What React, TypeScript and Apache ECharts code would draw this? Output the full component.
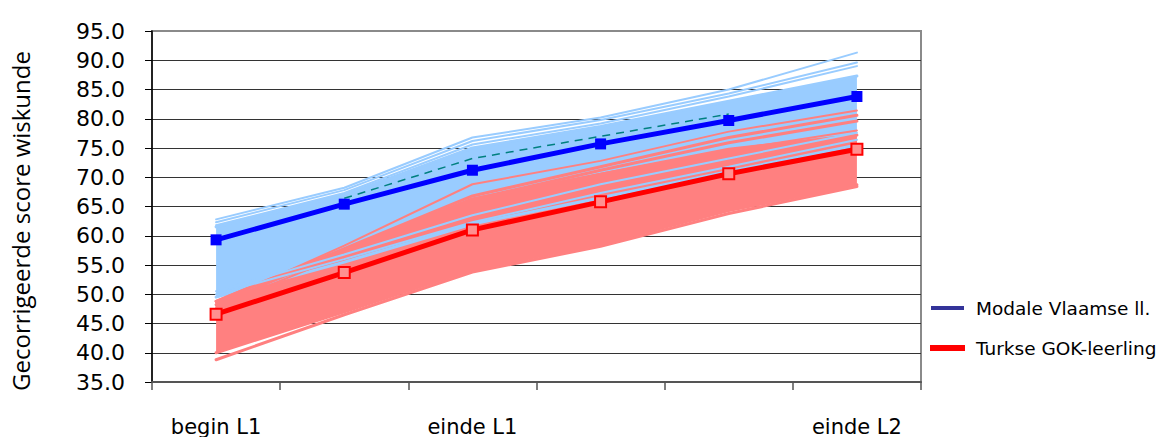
import React, { useEffect, useRef } from "react";
import * as echarts from "echarts";

// ---- data ----
const categories = ["begin L1", "", "einde L1", "", "", "einde L2"];
const yMin = 35;
const yMax = 95;
const yStep = 5;

const modaleName = "Modale Vlaamse ll.";
const turkseName = "Turkse GOK-leerling";
const modale = [59.3, 65.4, 71.2, 75.7, 79.7, 83.8];
const turkse = [46.6, 53.7, 61.0, 65.8, 70.6, 74.8];

// envelope of the dense bundle of individual (Flemish) pupil lines
const blueBandLow = [49.5, 55.5, 62.0, 66.5, 71.0, 75.5];
const blueBandHigh = [61.5, 67.0, 75.0, 78.7, 83.0, 87.3];
// individual Flemish pupil lines standing out of the bundle
const blueLineA = [62.8, 68.2, 76.8, 80.2, 85.0, 91.3];
const blueLineB = [62.3, 67.8, 76.2, 79.8, 84.3, 89.6];
const blueLineC = [61.8, 67.3, 75.6, 79.2, 83.8, 89.0];
const blueLineD = [50.5, 56.8, 63.5, 68.8, 73.2, 77.6];
const blueLineE = [50.0, 56.0, 62.3, 67.3, 71.8, 76.4];

// envelope of the dense bundle of individual Turkish pupil lines
const pinkBandLow = [40.0, 47.0, 54.2, 58.6, 64.3, 68.7];
const pinkBandHigh = [48.8, 57.6, 66.3, 70.5, 74.8, 77.2];
// individual Turkish pupil lines standing out of the bundle
const pinkLineA = [48.5, 58.3, 68.8, 72.8, 77.8, 81.4];
const pinkLineB = [48.8, 57.8, 66.8, 71.8, 76.8, 80.6];
const pinkLineC = [48.2, 57.4, 66.2, 71.2, 75.9, 79.6];
const pinkLineD = [47.8, 56.8, 65.6, 70.6, 74.6, 78.0];
const pinkLineE = [38.8, 46.5, 53.8, 58.2, 63.8, 68.4];

// dashed trend line partly hidden in the bundle
const tealDashed = [null, 66.4, 73.2, 77.0, 80.8, null];

const BLUE_BAND = "#99CCFF";
const PINK_BAND = "#FF8080";

function band(id: string, low: number[], high: number[], color: string) {
  return [
    {
      name: id + "-low",
      type: "line",
      stack: id,
      data: low,
      symbol: "none",
      silent: true,
      lineStyle: { color, width: 3, cap: "round" },
    },
    {
      name: id + "-fill",
      type: "line",
      stack: id,
      data: high.map((h, i) => +(h - low[i]).toFixed(2)),
      symbol: "none",
      silent: true,
      lineStyle: { color, width: 3, cap: "round" },
      areaStyle: { color, opacity: 1 },
    },
  ];
}

function thin(id: string, data: number[], color: string, width = 2) {
  return {
    name: id,
    type: "line",
    data,
    symbol: "none",
    silent: true,
    lineStyle: { color, width, cap: "round" },
  };
}

export default function App() {
  const ref = useRef<HTMLDivElement>(null);

  useEffect(() => {
    if (!ref.current) return;
    const chart = echarts.init(ref.current, null, { renderer: "svg" });
    const nLines = Math.round((yMax - yMin) / yStep) + 1;
    const splitColors = Array.from({ length: nLines }, (_, i) =>
      i === nLines - 1 ? "#8a8a8a" : "#333333"
    );

    const option: any = {
      animation: false,
      backgroundColor: "#ffffff",
      grid: {
        left: 152,
        top: 31,
        width: 769,
        height: 351,
        show: true,
        borderColor: "#8a8a8a",
        borderWidth: 2,
        backgroundColor: "transparent",
      },
      xAxis: {
        type: "category",
        data: categories,
        boundaryGap: true,
        axisLine: { lineStyle: { color: "#555555", width: 2 } },
        axisTick: {
          show: true,
          interval: 0,
          length: 8,
          lineStyle: { color: "#555555", width: 1.5 },
        },
        axisLabel: {
          interval: 0,
          margin: 34,
          fontFamily: "DejaVu Sans",
          fontSize: 21,
          color: "#000000",
        },
        splitLine: { show: false },
      },
      yAxis: {
        type: "value",
        min: yMin,
        max: yMax,
        interval: yStep,
        axisLine: { show: true, lineStyle: { color: "#000000", width: 1.5 } },
        axisTick: { show: true, length: 7, lineStyle: { color: "#000000" } },
        axisLabel: {
          margin: 27,
          fontFamily: "DejaVu Sans",
          fontSize: 22,
          color: "#000000",
          padding: [0, 0, 6, 0],
          formatter: (v: number) => v.toFixed(1),
        },
        splitLine: { show: true, lineStyle: { color: splitColors, width: 1 } },
      },
      legend: {
        orient: "vertical",
        left: 930,
        top: 298,
        itemWidth: 33,
        itemHeight: 4,
        itemGap: 20,
        padding: 0,
        selectedMode: false,
        textStyle: {
          fontFamily: "DejaVu Sans",
          fontSize: 18.5,
          color: "#000000",
          lineHeight: 20,
          padding: [0, 0, 0, 7],
        },
        data: [
          { name: modaleName, icon: "rect", itemStyle: { color: "#333399" } },
          { name: turkseName, icon: "rect", itemStyle: { color: "#FF0000" } },
        ],
      },
      graphic: [
        {
          type: "text",
          x: 20,
          y: 221,
          rotation: Math.PI / 2,
          style: {
            text: "Gecorrigeerde score wiskunde",
            font: '24px "Open Sans"',
            fill: "#000000",
            align: "center",
            verticalAlign: "middle",
          },
        },
      ],
      series: [
        ...band("blueBand", blueBandLow, blueBandHigh, BLUE_BAND),
        thin("blueA", blueLineA, BLUE_BAND, 2),
        thin("blueB", blueLineB, BLUE_BAND, 2),
        thin("blueC", blueLineC, BLUE_BAND, 2),
        ...band("pinkBand", pinkBandLow, pinkBandHigh, PINK_BAND),
        thin("pinkA", pinkLineA, PINK_BAND, 2),
        thin("pinkB", pinkLineB, PINK_BAND, 3),
        thin("pinkC", pinkLineC, PINK_BAND, 3),
        thin("pinkD", pinkLineD, PINK_BAND, 2),
        thin("pinkE", pinkLineE, PINK_BAND, 3),
        thin("blueD", blueLineD, BLUE_BAND, 2),
        thin("blueE", blueLineE, BLUE_BAND, 2),
        {
          name: "teal",
          type: "line",
          data: tealDashed,
          symbol: "none",
          silent: true,
          connectNulls: false,
          lineStyle: { color: "#008080", width: 1.5, type: [8, 6] },
        },
        {
          name: modaleName,
          type: "line",
          data: modale,
          symbol: "rect",
          symbolSize: 11,
          itemStyle: { color: "#0000FF" },
          lineStyle: { color: "#0000FF", width: 5 },
          z: 5,
        },
        {
          name: turkseName,
          type: "line",
          data: turkse,
          symbol: "rect",
          symbolSize: 11,
          itemStyle: { color: "#FF9090", borderColor: "#FF0000", borderWidth: 2 },
          lineStyle: { color: "#FF0000", width: 5 },
          z: 5,
        },
      ],
    };
    chart.setOption(option);
    return () => chart.dispose();
  }, []);

  return (
    <div
      ref={ref}
      style={{ position: "fixed", left: 0, top: 0, width: 1167, height: 437 }}
    />
  );
}
